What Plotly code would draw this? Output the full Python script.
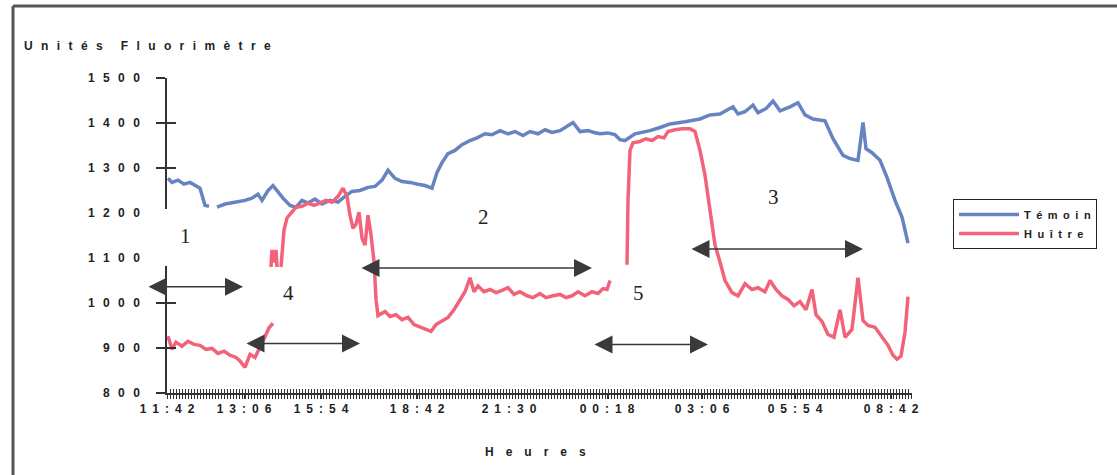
import plotly.graph_objects as go

# ---------------- data ----------------
tick_pos = [0, 77, 154, 250, 342, 440, 535, 628, 724]
tick_labels = ["11:42", "13:06", "15:54", "18:42", "21:30", "00:18", "03:06", "05:54", "08:42"]
y_ticks = [800, 900, 1000, 1100, 1200, 1300, 1400, 1500]

temoin_x = [1, 5, 11, 17, 23, 29, 33, 38, 42, None,
            50, 58, 68, 78, 85, 91, 95, 101, 106, 111, 116, 123, 129, 135, 141, 148, 155, 163,
            171, 178, 185, 193, 201, 208, 215, 221, 228, 235, 243, 251, 258, 265, 270, 275,
            281, 288, 295, 303, 310, 318, 325, 333, 341, 348, 356, 363, 371, 378, 385, 393,
            400, 406, 413, 421, 427, 433, 441, 448, 453, 458, 468, 483, 493, 503, 518, 533,
            543, 553, 566, 571, 578, 586, 591, 599, 606, 613, 623, 631, 638, 646, 658, 666,
            676, 683, 691, 696, 699, 705, 713, 720, 728, 735, 741]
temoin_y = [1277, 1268, 1273, 1264, 1268, 1259, 1255, 1217, 1215, None,
            1213, 1220, 1224, 1228, 1233, 1242, 1228, 1250, 1261, 1246, 1233, 1217, 1213, 1228,
            1222, 1231, 1220, 1228, 1224, 1237, 1248, 1250, 1257, 1259, 1273, 1295, 1277, 1270,
            1268, 1264, 1261, 1255, 1290, 1312, 1332, 1339, 1352, 1361, 1367, 1376, 1374, 1383,
            1376, 1381, 1372, 1381, 1376, 1385, 1379, 1383, 1392, 1401, 1381, 1383, 1379, 1376,
            1378, 1374, 1363, 1361, 1376, 1383, 1390, 1398, 1403, 1409, 1418, 1420, 1436, 1420,
            1425, 1440, 1423, 1432, 1449, 1427, 1436, 1445, 1418, 1409, 1405, 1365, 1328, 1321,
            1317, 1401, 1343, 1334, 1317, 1279, 1228, 1191, 1133]

huitre_x = [1, 5, 9, 15, 21, 27, 33, 39, 45, 51, 57, 63, 69, 73, 78, 83, 88, 93, 98, 102, 106, None,
            104, 105, 107, 109, 110, None,
            114, 117, 120, 124, 129, 135, 141, 147, 153, 159, 165, 171, 176, 180, 183, 186, 189,
            192, 195, 198, 201, 204, 207, 209, 211, 218, 223, 229, 235, 241, 247, 253, 259, 264,
            269, 275, 281, 287, 293, 298, 303, 307, 311, 317, 323, 329, 335, 341, 347, 353, 360,
            366, 373, 379, 386, 393, 399, 405, 411, 418, 425, 431, 436, 440, 443, None,
            460, 461, 463, 466, 473, 479, 485, 491, 497, 501, 508, 515, 523, 528, 533, 538, 543,
            548, 553, 558, 565, 571, 578, 585, 591, 598, 603, 609, 615, 621, 627, 633, 639, 645,
            649, 655, 661, 667, 673, 678, 685, 691, 696, 701, 708, 715, 721, 726, 730, 734, 738, 741]
huitre_y = [926, 897, 913, 904, 915, 908, 906, 897, 899, 888, 893, 884, 879, 871, 857, 886, 879, 900, 925, 945, 955, None,
            1080, 1118, 1090, 1118, 1080, None,
            1080, 1162, 1189, 1200, 1213, 1215, 1222, 1217, 1222, 1228, 1224, 1237, 1255, 1237, 1195,
            1166, 1175, 1202, 1144, 1129, 1195, 1151, 1093, 1008, 972, 981, 970, 974, 963, 968, 952,
            946, 941, 937, 952, 959, 968, 985, 1008, 1025, 1056, 1025, 1038, 1025, 1030, 1023, 1028,
            1034, 1019, 1025, 1016, 1012, 1021, 1012, 1016, 1019, 1012, 1016, 1025, 1016, 1025, 1021,
            1032, 1030, 1050, None,
            1085, 1228, 1339, 1356, 1359, 1365, 1361, 1370, 1367, 1381, 1385, 1387, 1387, 1381, 1339,
            1284, 1206, 1129, 1091, 1050, 1023, 1016, 1043, 1030, 1034, 1025, 1050, 1030, 1016, 1008,
            994, 1003, 985, 1030, 974, 959, 930, 924, 985, 924, 941, 1056, 961, 950, 946, 924, 906,
            884, 875, 882, 935, 1014]

# annotation arrows (tail x, head x, y) and phase numbers
arrows = [(-20, 76, 1036), (78, 193, 910), (193, 425, 1078), (426, 541, 908), (523, 696, 1120)]
phase_labels = [("1", 18, 1149), ("4", 121, 1023), ("2", 316, 1191), ("5", 471, 1023), ("3", 606, 1235)]

# ---------------- layout geometry ----------------
W, H = 1117, 475
L, R, T, B = 167, 912, 78, 393


def px(x):
    return (x - L) / (R - L)


def py(y):
    return (B - y) / (B - T)


def spread(s, sep="\u2002"):
    return sep.join(s)


BLUE = "#6784c2"
RED = "#f2637a"
DARK = "#333333"
SANS = "Liberation Sans, Arial"
FONT = dict(family=SANS, size=12, color="#222222", weight="bold")

fig = go.Figure()
fig.add_trace(go.Scatter(x=temoin_x, y=temoin_y, mode="lines", name=spread("Témoin"),
                         line=dict(color=BLUE, width=3.5), connectgaps=False))
fig.add_trace(go.Scatter(x=huitre_x, y=huitre_y, mode="lines", name=spread("Huître"),
                         line=dict(color=RED, width=3.5), connectgaps=False))
# invisible trace to drive overlay axes (cross ticks)
fig.add_trace(go.Scatter(x=[0], y=[800], xaxis="x2", yaxis="y2", mode="markers",
                         marker=dict(opacity=0), showlegend=False, hoverinfo="skip"))

fig.update_layout(
    width=W, height=H,
    margin=dict(l=L, r=W - R, t=T, b=H - B, pad=0),
    paper_bgcolor="white", plot_bgcolor="white",
    font=FONT,
    showlegend=True,
    legend=dict(x=px(953), y=py(199), xanchor="left", yanchor="top",
                bordercolor="#222222", borderwidth=1, bgcolor="white",
                font=dict(family=SANS, size=11, color="#222222", weight="bold"),
                itemwidth=60, tracegroupgap=0),
    xaxis=dict(range=[0, 745], tickmode="array", tickvals=tick_pos,
               ticktext=[spread(t) for t in tick_labels],
               ticks="outside", ticklen=4, tickcolor=DARK, tickwidth=1,
               minor=dict(dtick=3, tick0=0, ticks="outside", ticklen=4, tickcolor=DARK, tickwidth=1),
               showline=True, linecolor=DARK, linewidth=1.5, showgrid=False, zeroline=False,
               tickfont=dict(family=SANS, size=12, color="#222222", weight="bold"),
               ticklabelstandoff=0, fixedrange=True),
    xaxis2=dict(range=[0, 745], overlaying="x", anchor="y", side="bottom", dtick=3, tick0=0,
                ticks="inside", ticklen=4, tickcolor=DARK, tickwidth=1, showticklabels=False,
                showgrid=False, zeroline=False, showline=False),
    yaxis=dict(range=[800, 1500], tickmode="array", tickvals=y_ticks,
               ticktext=[spread(str(v), "\u2002\u2009") for v in y_ticks],
               ticks="outside", ticklen=9, tickcolor=DARK, tickwidth=1.5,
               showline=True, linecolor=DARK, linewidth=1.5, showgrid=False, zeroline=False,
               tickfont=dict(family=SANS, size=12, color="#222222", weight="bold"),
               ticklabelstandoff=14),
    yaxis2=dict(range=[800, 1500], overlaying="y", anchor="x", side="left", tickmode="array",
                tickvals=y_ticks, ticks="inside", ticklen=9, tickcolor=DARK, tickwidth=1.5,
                showticklabels=False, showgrid=False, zeroline=False, showline=False),
)

shapes = [
    # outer frame (scan border): left and top
    dict(type="line", xref="paper", yref="paper", x0=px(13), x1=px(13), y0=py(6), y1=py(H + 5),
         line=dict(color="#555555", width=3), layer="above"),
    dict(type="line", xref="paper", yref="paper", x0=px(13), x1=px(W + 5), y0=py(6), y1=py(6),
         line=dict(color="#555555", width=3), layer="above"),
    # white patch where a pasted label box hid part of the axis
    dict(type="rect", xref="paper", yref="paper", x0=px(152), x1=px(182), y0=py(266), y1=py(209),
         fillcolor="white", line=dict(width=0), layer="above"),
]
fig.update_layout(shapes=shapes)

annotations = [
    dict(text=spread("Unités", "\u2002\u2009") + "\u2003\u2002" + spread("Fluorimètre", "\u2002\u2009"),
         xref="paper", yref="paper", x=px(22), y=py(46), xanchor="left", yanchor="middle",
         showarrow=False, font=dict(family=SANS, size=12, color="#222222", weight="bold")),
    dict(text=spread("Heures", "\u2003"), xref="paper", yref="paper", x=px(535), y=py(452),
         xanchor="center", yanchor="middle", showarrow=False,
         font=dict(family=SANS, size=12, color="#222222", weight="bold")),
]
for x0, x1, yv in arrows:
    annotations.append(dict(x=x1, y=yv, ax=x0, ay=yv, xref="x", yref="y", axref="x", ayref="y",
                            text="", showarrow=True, arrowhead=2, arrowside="end+start",
                            arrowsize=2.4, arrowwidth=1.5, arrowcolor="#3a3a3a", standoff=0,
                            startstandoff=0))
for lab, xv, yv in phase_labels:
    annotations.append(dict(x=xv, y=yv, xref="x", yref="y", text=lab, showarrow=False,
                            font=dict(family="Liberation Serif, Times New Roman", size=21,
                                      color="#222222", weight="normal")))
fig.update_layout(annotations=annotations)

fig.write_html("out.html")
